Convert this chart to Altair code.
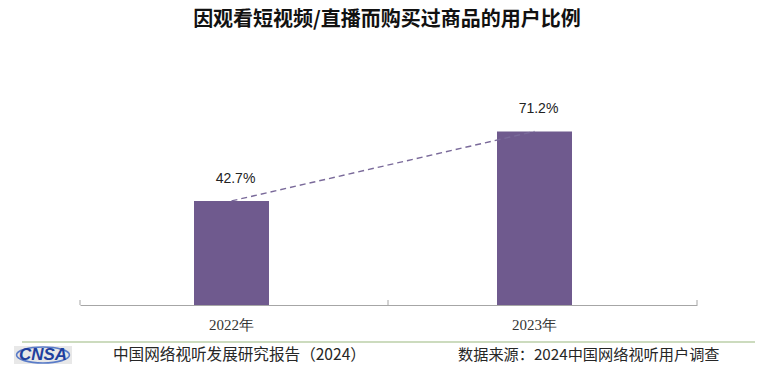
import altair as alt
import pandas as pd

years = ["2022年", "2023年"]
values = [42.7, 71.2]
labels = ["42.7%", "71.2%"]

title_text = "因观看短视频/直播而购买过商品的用户比例"
footer_left = "中国网络视听发展研究报告（2024）"
footer_right = "数据来源：2024中国网络视听用户调查"

df = pd.DataFrame({"year": years, "value": values, "label": labels})
one = pd.DataFrame({"a": [0]})

W, H = 617, 195
BAR = "#6F5A8E"

xscale = alt.Scale(domain=years, paddingInner=0, paddingOuter=0.01815, align=0)
yscale = alt.Scale(domain=[0, 80])

x_enc = alt.X("year:N", scale=xscale, sort=years, title=None,
              axis=alt.Axis(ticks=False, domain=True, labelAngle=0, labelPadding=12))
y_enc = alt.Y("value:Q", scale=yscale, axis=None)

bars = alt.Chart(df).mark_bar(size=75, color=BAR).encode(x=x_enc, y=y_enc)

line = alt.Chart(df).mark_line(color="#7a6a9a", strokeDash=[6, 4], strokeWidth=1.4).encode(
    x=alt.X("year:N", scale=xscale, sort=years),
    y=alt.Y("value:Q", scale=yscale))

text = alt.Chart(df).mark_text(dy=-22, dx=4, font="Liberation Sans", fontSize=14,
                               color="#222222", baseline="middle").encode(
    x=alt.X("year:N", scale=xscale, sort=years),
    y=alt.Y("value:Q", scale=yscale),
    text="label:N")

def tick(px):
    return alt.Chart(one).mark_rule(color="#a6a6a6", strokeWidth=1).encode(
        x=alt.value(px), y=alt.value(H - 5), y2=alt.value(H))

title = alt.Chart(one).mark_text(text=title_text, font="Noto Sans CJK SC", fontSize=20,
                                 fontWeight="bold", color="#111111", baseline="middle",
                                 align="center").encode(x=alt.value(307), y=alt.value(-90))

green = alt.Chart(one).mark_rule(color="#9ab77f", strokeWidth=1.2).encode(
    x=alt.value(-58), x2=alt.value(675), y=alt.value(232))

logo_bg = alt.Chart(one).mark_rect(fill="#e8e8e8", opacity=1).encode(
    x=alt.value(-66), x2=alt.value(-8), y=alt.value(236), y2=alt.value(254))

ellipse = alt.Chart(one).mark_point(
    shape="M-1,0C-1,-0.166,-0.552,-0.3,0,-0.3C0.552,-0.3,1,-0.166,1,0C1,0.166,0.552,0.3,0,0.3C-0.552,0.3,-1,0.166,-1,0Z",
    size=2800, stroke="#5a7cc8", strokeWidth=1.6, filled=False, fill="transparent",
    opacity=1, strokeOpacity=1).encode(
    x=alt.value(-37), y=alt.value(245))

logo = alt.Chart(one).mark_text(text="CNSA", font="Liberation Sans", fontSize=17,
                                fontWeight="bold", fontStyle="italic", color="#1f3f9e",
                                baseline="middle", align="center").encode(
    x=alt.value(-37), y=alt.value(245))

fl = alt.Chart(one).mark_text(text=footer_left, font="Noto Sans CJK SC", fontSize=15.6,
                              color="#262626", baseline="middle", align="left").encode(
    x=alt.value(33), y=alt.value(245))

fr = alt.Chart(one).mark_text(text=footer_right, font="Noto Sans CJK SC", fontSize=15.2,
                              color="#262626", baseline="middle", align="left").encode(
    x=alt.value(378), y=alt.value(245))

chart = alt.layer(logo_bg, ellipse, bars, line, text, tick(0), tick(308), tick(617), title,
                  green, logo, fl, fr).properties(
    width=W, height=H,
    autosize=alt.AutoSizeParams(type="none"),
    padding={"left": 72, "top": 102, "right": 66, "bottom": 61},
    background="white",
).configure_view(stroke=None).configure_axisX(
    domainColor="#a6a6a6", domainWidth=1, labelFont="Liberation Serif",
    labelFontSize=15, labelColor="#333333", grid=False)

chart.save("out.html", embed_options={"renderer": "svg", "actions": False})
